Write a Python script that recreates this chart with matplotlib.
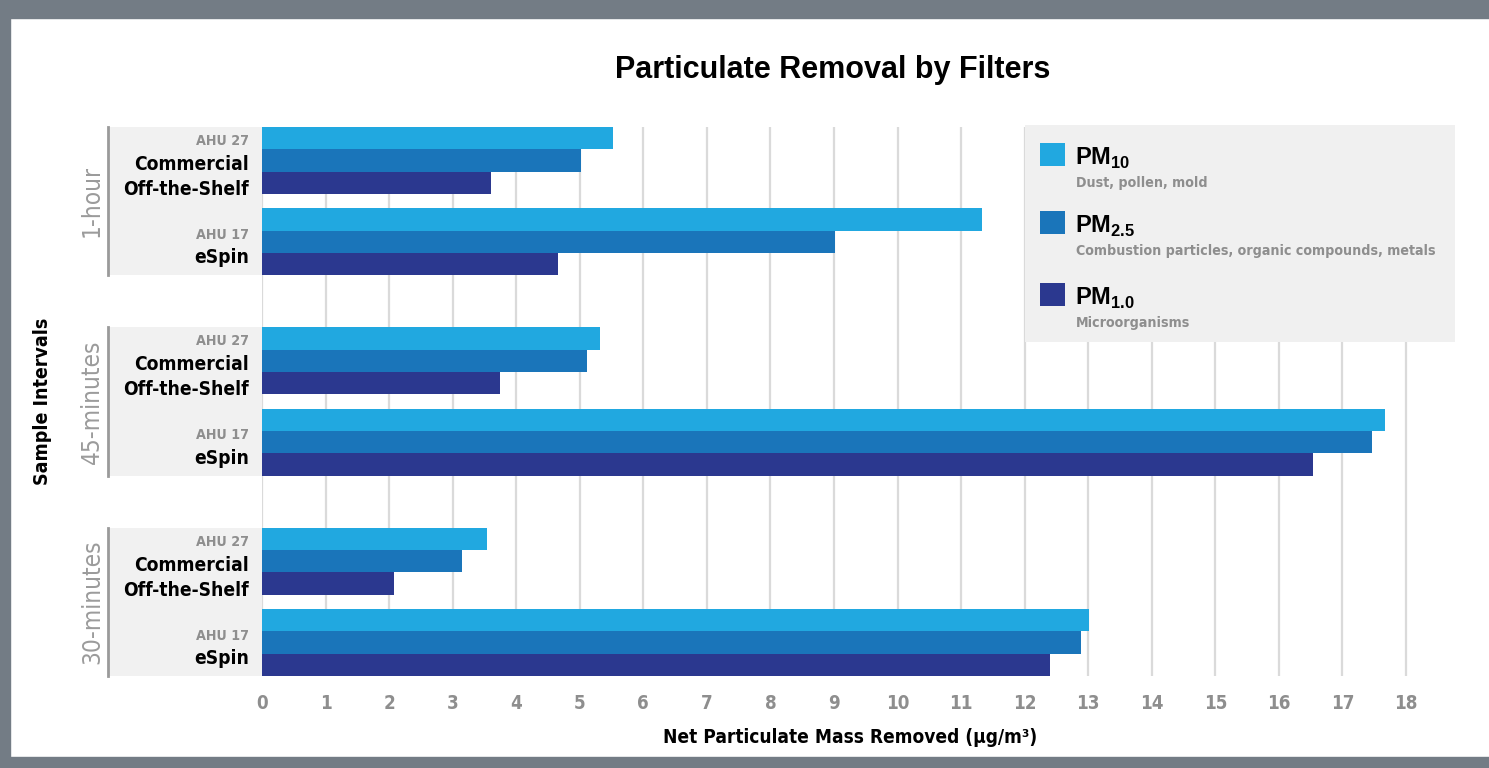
import matplotlib
matplotlib.use("Agg")
import matplotlib.pyplot as plt
from matplotlib import font_manager as fm
from matplotlib.patches import Rectangle

# --- data -------------------------------------------------------------
intervals = ["1-hour", "45-minutes", "30-minutes"]
units = ["AHU 27", "AHU 17"]
filters = [["Commercial", "Off-the-Shelf"], ["eSpin"]]
series = ["PM10", "PM2.5", "PM1.0"]
series_tex = [r"$\mathbf{PM}_{\mathbf{10}}$", r"$\mathbf{PM}_{\mathbf{2.5}}$", r"$\mathbf{PM}_{\mathbf{1.0}}$"]
series_desc = ["Dust, pollen, mold", "Combustion particles, organic compounds, metals", "Microorganisms"]
colors = ["#21a8e0", "#1a75ba", "#2b388f"]

# values[interval][unit] -> [PM10, PM2.5, PM1.0]
pm_1hour = [[5.52, 5.02, 3.60], [11.33, 9.02, 4.66]]
pm_45min = [[5.32, 5.11, 3.75], [17.67, 17.47, 16.54]]
pm_30min = [[3.54, 3.15, 2.08], [13.01, 12.89, 12.40]]
values = [pm_1hour, pm_45min, pm_30min]
xticks = list(range(0, 19))

# --- fonts ------------------------------------------------------------
ttf = fm.fontManager.ttflist
names = {f.name for f in ttf}
has_cond = any(f.name == "DejaVu Sans" and f.stretch == "condensed" for f in ttf)
WIDE = "Liberation Sans" if "Liberation Sans" in names else "DejaVu Sans"
if has_cond:
    NARROW = dict(fontfamily="DejaVu Sans", fontstretch="condensed")
else:
    NARROW = dict(fontfamily=WIDE)
plt.rcParams["mathtext.fontset"] = "custom"
plt.rcParams["mathtext.bf"] = f"{WIDE}:bold"
plt.rcParams["mathtext.rm"] = WIDE

W, H = 1489, 768
fig = plt.figure(figsize=(W / 100, H / 100), dpi=100, facecolor="white")

# gray frame (top, left, bottom)
BORDER = "#737c85"
for (x0, y0, w, h) in [(0, 0, W, 18), (0, 0, 10, H), (0, 757, W, 11)]:
    fig.patches.append(Rectangle((x0 / W, 1 - (y0 + h) / H), w / W, h / H,
                                 transform=fig.transFigure, color=BORDER, zorder=0))

# layout in bar units
GROUP_PITCH, SUB_PITCH = 9.0, 3.65
ymax = 2 * GROUP_PITCH + SUB_PITCH + 3
XMAX = 18.5
px_per_x = 63.55
ax = fig.add_axes([262 / W, 1 - 676 / H, XMAX * px_per_x / W, 549 / H])
ax.set_xlim(0, XMAX)
ax.set_ylim(ymax, 0)

for g, grp in enumerate(values):
    for s, vals in enumerate(grp):
        for k, v in enumerate(vals):
            y = g * GROUP_PITCH + s * SUB_PITCH + k
            ax.barh(y + 0.5, v, height=1.0, color=colors[k], edgecolor="none", zorder=3)

for x in xticks:
    ax.axvline(x, color="#dadada", lw=1.6, zorder=1)

for sp in ax.spines.values():
    sp.set_visible(False)
ax.set_yticks([])
ax.set_xticks(xticks)
ax.tick_params(axis="x", length=0, pad=13)
for lab in ax.get_xticklabels():
    lab.set_fontproperties(fm.FontProperties(family=NARROW["fontfamily"], weight="bold",
                                             stretch=NARROW.get("fontstretch", "normal"),
                                             size=13.5))
    lab.set_color("#8e8e8e")
ax.set_xlabel("Net Particulate Mass Removed (µg/m³)", fontweight="bold",
              fontsize=13.7, labelpad=11, **NARROW)

# category panels on the left
PANEL_X = -154 / px_per_x
for g, name in enumerate(intervals):
    top = g * GROUP_PITCH
    ax.add_patch(Rectangle((PANEL_X, top), -PANEL_X, SUB_PITCH + 3, facecolor="#f1f1f1",
                           edgecolor="none", clip_on=False, zorder=2))
    ax.plot([PANEL_X, PANEL_X], [top, top + SUB_PITCH + 3], color="#9a9a9a", lw=2,
            clip_on=False, zorder=3)
    ax.text(PANEL_X - 16 / px_per_x, top + (SUB_PITCH + 3) / 2, name, rotation=90,
            ha="center", va="center", fontsize=17.5, color="#9b9b9b", **NARROW)
    tx = -13 / px_per_x
    ax.text(tx, top + 0.63, units[0], ha="right", va="center",
            fontweight="bold", fontsize=10.3, color="#8e8e8e", **NARROW)
    ax.text(tx, top + 1.68, filters[0][0], ha="right", va="center",
            fontweight="bold", fontsize=13.8, color="black", **NARROW)
    ax.text(tx, top + 2.80, filters[0][1], ha="right", va="center",
            fontweight="bold", fontsize=13.8, color="black", **NARROW)
    ax.text(tx, top + SUB_PITCH + 1.2, units[1], ha="right", va="center",
            fontweight="bold", fontsize=10.3, color="#8e8e8e", **NARROW)
    ax.text(tx, top + SUB_PITCH + 2.22, filters[1][0], ha="right", va="center",
            fontweight="bold", fontsize=13.8, color="black", **NARROW)

fig.text(43 / W, 1 - 401 / H, "Sample Intervals", rotation=90, ha="center", va="center",
         fontweight="bold", fontsize=14, **NARROW)
fig.text(833 / W, 1 - 70 / H, "Particulate Removal by Filters", ha="center", va="center",
         fontfamily=WIDE, fontweight="bold", fontsize=22)

# legend box
fig.patches.append(Rectangle((1025 / W, 1 - 342 / H), 430 / W, 217 / H,
                             transform=fig.transFigure, facecolor="#f0f0f0",
                             edgecolor="none", zorder=4))
sq_y = [143, 211, 283]
for i in range(3):
    fig.patches.append(Rectangle((1040 / W, 1 - (sq_y[i] + 23) / H), 25 / W, 23 / H,
                                 transform=fig.transFigure, facecolor=colors[i],
                                 edgecolor="none", zorder=5))
    fig.text(1075 / W, 1 - (sq_y[i] + 15) / H, series_tex[i], ha="left", va="center",
             fontsize=17, color="black", zorder=6)
    fig.text(1076 / W, 1 - (sq_y[i] + 40) / H, series_desc[i], ha="left", va="center",
             fontweight="bold", fontsize=10.2, color="#8e8e8e", zorder=6, **NARROW)

fig.savefig("out.png", dpi=100, facecolor="white")
